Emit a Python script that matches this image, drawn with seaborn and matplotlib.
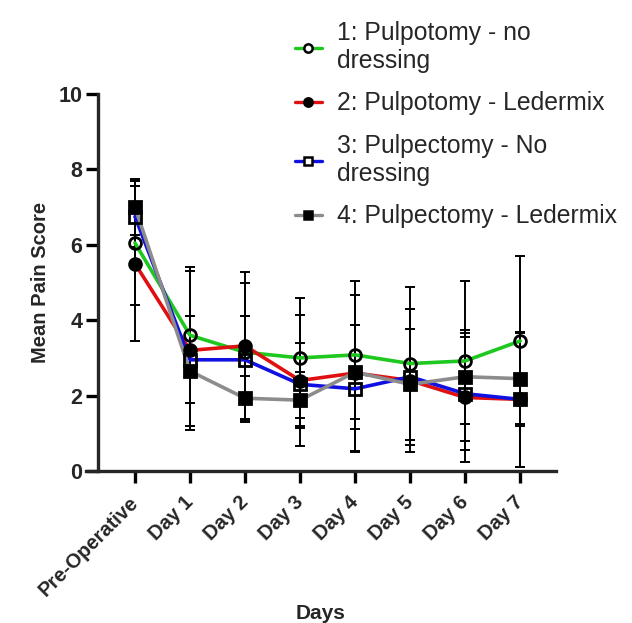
import numpy as np
import pandas as pd
import matplotlib
matplotlib.use("Agg")
import matplotlib.pyplot as plt
import matplotlib.transforms as mtransforms
import seaborn as sns
from matplotlib.lines import Line2D

days = ["Pre-Operative", "Day 1", "Day 2", "Day 3", "Day 4", "Day 5", "Day 6", "Day 7"]
groups = ["1: Pulpotomy - no\ndressing", "2: Pulpotomy - Ledermix",
          "3: Pulpectomy - No\ndressing", "4: Pulpectomy - Ledermix"]

g1_mean = [6.05, 3.60, 3.15, 3.00, 3.08, 2.85, 2.92, 3.45]
g2_mean = [5.50, 3.20, 3.32, 2.40, 2.60, 2.40, 1.95, 1.90]
g3_mean = [6.75, 2.95, 2.95, 2.30, 2.18, 2.50, 2.05, 1.90]
g4_mean = [7.00, 2.65, 1.93, 1.88, 2.62, 2.30, 2.50, 2.45]

g1_sd = [1.65, 1.80, 1.85, 1.60, 1.96, 2.02, 2.13, 2.26]
g2_sd = [2.05, 2.10, 1.95, 1.75, 2.07, 1.90, 1.70, 1.80]
g3_sd = [0.80, 1.15, 1.15, 1.10, 1.68, 1.80, 1.50, 1.80]
g4_sd = [0.75, 1.45, 0.58, 0.75, 1.25, 1.48, 1.25, 1.20]

means = [g1_mean, g2_mean, g3_mean, g4_mean]
sds = [g1_sd, g2_sd, g3_sd, g4_sd]
colors = ["#1ec81e", "#e01010", "#1010e0", "#8c8c8c"]
markers = ["o", "o", "s", "s"]
faces = ["none", "black", "none", "black"]

rows = []
for gname, m, s in zip(groups, means, sds):
    for i, d in enumerate(days):
        rows.append({"Group": gname, "x": i, "Day": d, "Mean": m[i], "SD": s[i]})
df = pd.DataFrame(rows)

sns.set_style("ticks")
plt.rcParams["font.family"] = ["Liberation Sans", "DejaVu Sans"]

fig = plt.figure(figsize=(6.32, 6.23), dpi=100)
ax = fig.add_axes([86 / 632, 0.244, 470 / 632, 0.605])

for gname in groups:
    sub = df[df["Group"] == gname]
    ax.errorbar(sub["x"], sub["Mean"], yerr=sub["SD"], fmt="none", ecolor="black",
                elinewidth=1.4, capsize=3.5, capthick=1.4, zorder=1)

sns.lineplot(data=df, x="x", y="Mean", hue="Group", hue_order=groups,
             palette=colors, linewidth=2.6, ax=ax, legend=False, zorder=2,
             errorbar=None, sort=False)

for gname, mk, fc in zip(groups, markers, faces):
    sub = df[df["Group"] == gname]
    ax.plot(sub["x"], sub["Mean"], linestyle="none", marker=mk, markersize=8.5,
            markerfacecolor=fc, markeredgecolor="black", markeredgewidth=2, zorder=3)

handles = [Line2D([0], [0], color=c, lw=2.4, marker=mk, markersize=6,
                  markerfacecolor=("white" if fc == "none" else "black"),
                  markeredgecolor="black", markeredgewidth=1.8)
           for c, mk, fc in zip(colors, markers, faces)]
fig.legend(handles, groups, loc="upper left", bbox_to_anchor=(0.443, 0.99),
           frameon=False, fontsize=17.8, handlelength=1.1, handletextpad=0.6,
           labelspacing=0.75, borderaxespad=0.2)

ax.set_xlim(-0.89, 7.65)
ax.set_ylim(0, 10)
ax.spines["left"].set_position(("data", -0.67))
ax.set_yticks([0, 2, 4, 6, 8, 10])
ax.set_xticks(range(len(days)))
ax.set_xticklabels(days, rotation=45, ha="right", va="center", rotation_mode="anchor",
                   fontsize=14.5, fontweight="bold")
offset = mtransforms.ScaledTranslation(3 / 72, 0, fig.dpi_scale_trans)
for lbl in ax.get_xticklabels():
    lbl.set_transform(lbl.get_transform() + offset)
for lbl in ax.get_yticklabels():
    lbl.set_fontsize(15.5)
    lbl.set_fontweight("bold")
ax.set_xlabel("Days", fontsize=15, fontweight="bold")
ax.xaxis.set_label_coords(0.5, -0.352)
ax.set_ylabel("Mean Pain Score", fontsize=14.5, fontweight="bold", labelpad=6)
for sp in ["top", "right"]:
    ax.spines[sp].set_visible(False)
for sp in ["left", "bottom"]:
    ax.spines[sp].set_linewidth(2.4)
ax.tick_params(axis="both", width=2.4, length=8.5, color="black", pad=3)
ax.tick_params(axis="x", pad=12)

fig.savefig("out.png", dpi=100, facecolor="white")
